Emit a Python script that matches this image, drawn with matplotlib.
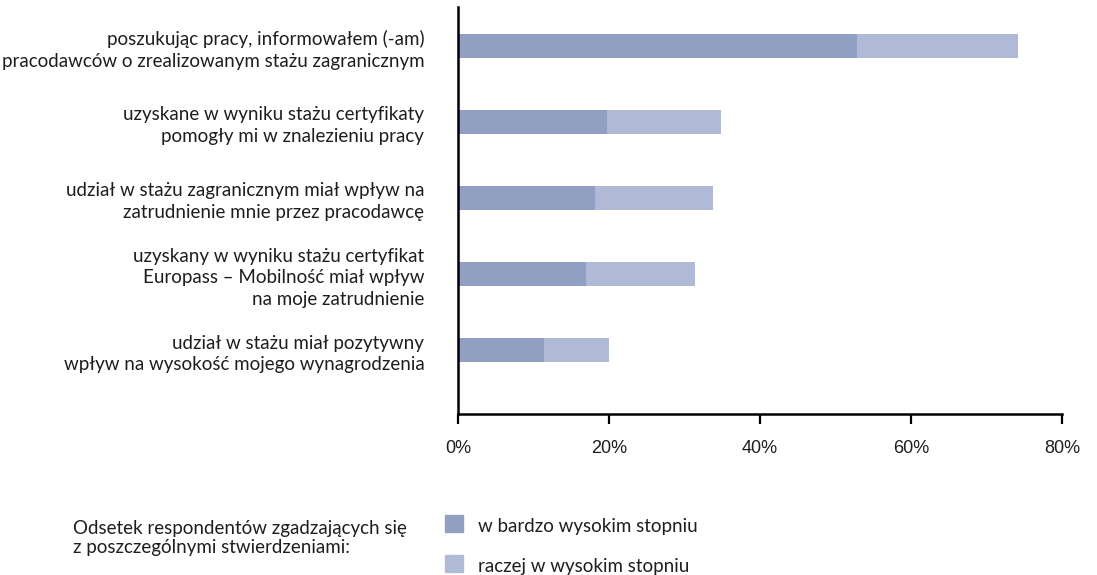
import matplotlib
matplotlib.use("Agg")
import matplotlib.pyplot as plt
from matplotlib.patches import Rectangle

# Statements (top to bottom) and shares of respondents, in %
statements = [
    "poszukując pracy, informowałem (-am)\npracodawców o zrealizowanym stażu zagranicznym",
    "uzyskane w wyniku stażu certyfikaty\npomogły mi w znalezieniu pracy",
    "udział w stażu zagranicznym miał wpływ na\nzatrudnienie mnie przez pracodawcę",
    "uzyskany w wyniku stażu certyfikat\nEuropass – Mobilność miał wpływ\nna moje zatrudnienie",
    "udział w stażu miał pozytywny\nwpływ na wysokość mojego wynagrodzenia",
]
very_high = [52.8, 19.7, 18.1, 16.9, 11.4]
rather_high = [21.4, 15.1, 15.6, 14.5, 8.6]

series_names = ["w bardzo wysokim stopniu", "raczej w wysokim stopniu"]
legend_title = "Odsetek respondentów zgadzających się\nz poszczególnymi stwierdzeniami:"
xticks = [0, 20, 40, 60, 80]

c_dark = "#909fc2"
c_light = "#b0bad6"
text_c = "#1e1e1e"
label_font = "Lato"
fs = 13.5

fig = plt.figure(figsize=(10.97, 5.75), dpi=100)
ax = fig.add_axes([458.3 / 1097, 1 - 414 / 575, (1062 - 458.3) / 1097, (414 - 7) / 575])

ypos = list(range(len(statements)))
h = 0.316
ax.barh(ypos, very_high, height=h, color=c_dark, zorder=2)
ax.barh(ypos, rather_high, left=very_high, height=h, color=c_light, zorder=2)

ax.set_xlim(0, 80)
ax.set_ylim(4.84, -0.51)
ax.set_xticks(xticks)
ax.set_xticklabels([f"{t}%" for t in xticks], family="Liberation Sans",
                   fontsize=13, color=text_c)
ax.set_yticks(ypos)
ax.set_yticklabels(statements, family=label_font, fontsize=fs, color=text_c,
                   linespacing=1.35)
ax.tick_params(axis="y", length=0, pad=24.5)
ax.tick_params(axis="x", length=7.5, width=1.6, color="black", pad=11)
for lab in ax.get_yticklabels():
    lab.set_horizontalalignment("right")
    lab.set_multialignment("right")

for s in ["top", "right"]:
    ax.spines[s].set_visible(False)
for s in ["left", "bottom"]:
    ax.spines[s].set_linewidth(1.8)
    ax.spines[s].set_color("black")
    ax.spines[s].set_zorder(3)

# Legend block below the chart
fig.text(73 / 1097, 1 - 538 / 575, legend_title, family=label_font, fontsize=fs,
         color=text_c, va="center", ha="left", linespacing=1.2)
for i, (name, col) in enumerate(zip(series_names, [c_dark, c_light])):
    yc = 523.5 + i * 40
    fig.patches.append(Rectangle((445 / 1097, 1 - (yc + 8.5) / 575), 18 / 1097, 17 / 575,
                                 transform=fig.transFigure, color=col, figure=fig))
    fig.text(478 / 1097, 1 - (yc + 3) / 575, name, family=label_font, fontsize=fs,
             color=text_c, va="center", ha="left")

fig.savefig("out.png", dpi=100)
